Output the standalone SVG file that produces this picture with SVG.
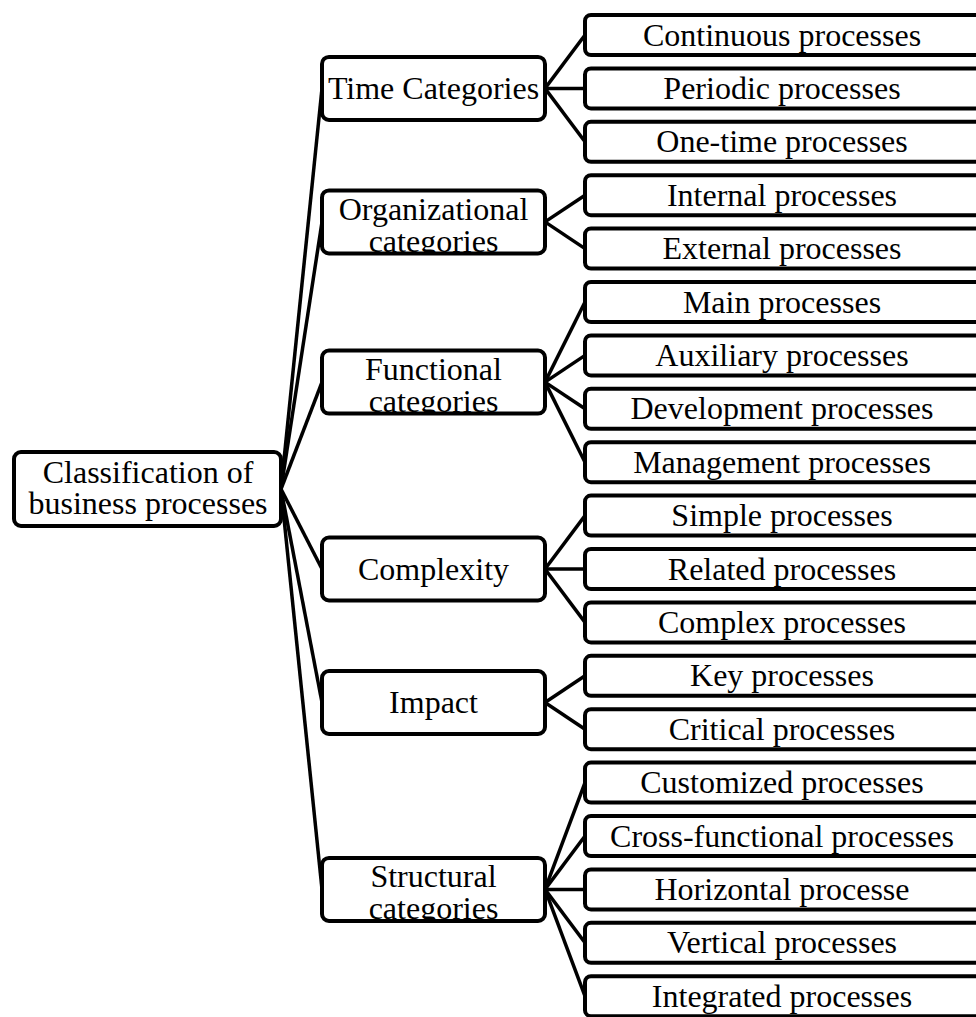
<svg xmlns="http://www.w3.org/2000/svg" width="976" height="1017" viewBox="0 0 976 1017">
<style>
.box{fill:#fff;stroke:#000;stroke-width:4}
.t{font-family:"Liberation Serif","Times New Roman",serif;font-size:32px;fill:#000;text-anchor:middle}
.c line{stroke:#000;stroke-width:3.5}
</style>
<defs>
<clipPath id="cOrg"><rect x="322" y="190.4" width="223" height="63"/></clipPath>
<clipPath id="cFun"><rect x="322" y="350.6" width="223" height="63"/></clipPath>
<clipPath id="cStr"><rect x="322" y="857.9" width="223" height="63"/></clipPath>
</defs>
<rect width="976" height="1017" fill="#fff"/>
<g id="connectors" class="c">
<line x1="281" y1="489" x2="322" y2="88.4"/>
<line x1="281" y1="489" x2="322" y2="221.9"/>
<line x1="281" y1="489" x2="322" y2="382.1"/>
<line x1="281" y1="489" x2="322" y2="569"/>
<line x1="281" y1="489" x2="322" y2="702.5"/>
<line x1="281" y1="489" x2="322" y2="889.4"/>
<line x1="545" y1="88.4" x2="585" y2="35"/>
<line x1="545" y1="88.4" x2="585" y2="88.4"/>
<line x1="545" y1="88.4" x2="585" y2="141.8"/>
<line x1="545" y1="221.9" x2="585" y2="195.2"/>
<line x1="545" y1="221.9" x2="585" y2="248.6"/>
<line x1="545" y1="382.1" x2="585" y2="302"/>
<line x1="545" y1="382.1" x2="585" y2="355.4"/>
<line x1="545" y1="382.1" x2="585" y2="408.8"/>
<line x1="545" y1="382.1" x2="585" y2="462.2"/>
<line x1="545" y1="569" x2="585" y2="515.6"/>
<line x1="545" y1="569" x2="585" y2="569"/>
<line x1="545" y1="569" x2="585" y2="622.4"/>
<line x1="545" y1="702.5" x2="585" y2="675.8"/>
<line x1="545" y1="702.5" x2="585" y2="729.2"/>
<line x1="545" y1="889.4" x2="585" y2="782.6"/>
<line x1="545" y1="889.4" x2="585" y2="836"/>
<line x1="545" y1="889.4" x2="585" y2="889.4"/>
<line x1="545" y1="889.4" x2="585" y2="942.8"/>
<line x1="545" y1="889.4" x2="585" y2="996.2"/>
</g>
<g id="root">
<rect class="box" x="14" y="452" width="267" height="74" rx="7"/>
<text class="t" x="148" y="483">Classification of</text>
<text class="t" x="148" y="514">business processes</text>
</g>
<g id="time">
<rect class="box" x="322" y="56.9" width="223" height="63" rx="7"/>
<text class="t" x="433.5" y="99">Time Categories</text>
</g>
<g id="org">
<g clip-path="url(#cOrg)">
<text class="t" x="433.5" y="220">Organizational</text>
<text class="t" x="433.5" y="252">categories</text>
</g>
<rect class="box" x="322" y="190.4" width="223" height="63" rx="7" style="fill:none"/>
</g>
<g id="func">
<g clip-path="url(#cFun)">
<text class="t" x="433.5" y="380">Functional</text>
<text class="t" x="433.5" y="412">categories</text>
</g>
<rect class="box" x="322" y="350.6" width="223" height="63" rx="7" style="fill:none"/>
</g>
<g id="complexity">
<rect class="box" x="322" y="537.5" width="223" height="63" rx="7"/>
<text class="t" x="433.5" y="580">Complexity</text>
</g>
<g id="impact">
<rect class="box" x="322" y="671" width="223" height="63" rx="7"/>
<text class="t" x="433.5" y="713">Impact</text>
</g>
<g id="struct">
<g clip-path="url(#cStr)">
<text class="t" x="433.5" y="887">Structural</text>
<text class="t" x="433.5" y="919">categories</text>
</g>
<rect class="box" x="322" y="857.9" width="223" height="63" rx="7" style="fill:none"/>
</g>
<g id="leaf0"><rect class="box" x="585" y="15" width="410" height="40" rx="6"/><text class="t" x="782" y="45.5">Continuous processes</text></g>
<g id="leaf1"><rect class="box" x="585" y="68.4" width="410" height="40" rx="6"/><text class="t" x="782" y="98.9">Periodic processes</text></g>
<g id="leaf2"><rect class="box" x="585" y="121.8" width="410" height="40" rx="6"/><text class="t" x="782" y="152.3">One-time processes</text></g>
<g id="leaf3"><rect class="box" x="585" y="175.2" width="410" height="40" rx="6"/><text class="t" x="782" y="205.7">Internal processes</text></g>
<g id="leaf4"><rect class="box" x="585" y="228.6" width="410" height="40" rx="6"/><text class="t" x="782" y="259.1">External processes</text></g>
<g id="leaf5"><rect class="box" x="585" y="282" width="410" height="40" rx="6"/><text class="t" x="782" y="312.5">Main processes</text></g>
<g id="leaf6"><rect class="box" x="585" y="335.4" width="410" height="40" rx="6"/><text class="t" x="782" y="365.9">Auxiliary processes</text></g>
<g id="leaf7"><rect class="box" x="585" y="388.8" width="410" height="40" rx="6"/><text class="t" x="782" y="419.3">Development processes</text></g>
<g id="leaf8"><rect class="box" x="585" y="442.2" width="410" height="40" rx="6"/><text class="t" x="782" y="472.7">Management processes</text></g>
<g id="leaf9"><rect class="box" x="585" y="495.6" width="410" height="40" rx="6"/><text class="t" x="782" y="526.1">Simple processes</text></g>
<g id="leaf10"><rect class="box" x="585" y="549" width="410" height="40" rx="6"/><text class="t" x="782" y="579.5">Related processes</text></g>
<g id="leaf11"><rect class="box" x="585" y="602.4" width="410" height="40" rx="6"/><text class="t" x="782" y="632.9">Complex processes</text></g>
<g id="leaf12"><rect class="box" x="585" y="655.8" width="410" height="40" rx="6"/><text class="t" x="782" y="686.3">Key processes</text></g>
<g id="leaf13"><rect class="box" x="585" y="709.2" width="410" height="40" rx="6"/><text class="t" x="782" y="739.7">Critical processes</text></g>
<g id="leaf14"><rect class="box" x="585" y="762.6" width="410" height="40" rx="6"/><text class="t" x="782" y="793.1">Customized processes</text></g>
<g id="leaf15"><rect class="box" x="585" y="816" width="410" height="40" rx="6"/><text class="t" x="782" y="846.5">Cross-functional processes</text></g>
<g id="leaf16"><rect class="box" x="585" y="869.4" width="410" height="40" rx="6"/><text class="t" x="782" y="899.9">Horizontal processe</text></g>
<g id="leaf17"><rect class="box" x="585" y="922.8" width="410" height="40" rx="6"/><text class="t" x="782" y="953.3">Vertical processes</text></g>
<g id="leaf18"><rect class="box" x="585" y="976.2" width="410" height="40" rx="6"/><text class="t" x="782" y="1006.7">Integrated processes</text></g>
</svg>
